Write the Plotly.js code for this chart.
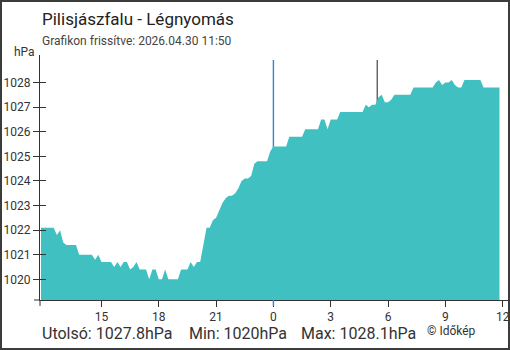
<!DOCTYPE html>
<html>
<head>
<meta charset="utf-8">
<script src="https://cdn.plot.ly/plotly-3.0.1.min.js"></script>
<style>
  html, body { margin: 0; padding: 0; background: #fff; }
  #wrap { position: relative; width: 510px; height: 350px; }
  #chart { width: 510px; height: 350px; }
  #frame { position: absolute; left: 0; top: 0; width: 510px; height: 350px; box-sizing: border-box; border: 2px solid #3c3c3c; pointer-events: none; }
</style>
</head>
<body>
<div id="wrap"><div id="chart"></div><div id="frame"></div></div>
<script>
// ---- data ----
const startTime = '2026-04-29T11:50:00';
const stepMinutes = 10;
const pressure = [
  1022.1, 1022.1, 1022.1, 1022.1, 1022.1, 1021.8, 1022.0, 1021.5, 1021.4, 1021.4,
  1021.4, 1021.4, 1021.0, 1021.0, 1021.0, 1021.0, 1021.0, 1020.8, 1021.0, 1020.7,
  1020.7, 1020.7, 1020.7, 1020.5, 1020.7, 1020.5, 1020.7, 1020.7, 1020.4, 1020.5,
  1020.7, 1020.4, 1020.4, 1020.4, 1020.0, 1020.4, 1020.4, 1020.0, 1020.0, 1020.4,
  1020.0, 1020.0, 1020.0, 1020.0, 1020.4, 1020.4, 1020.4, 1020.7, 1020.5, 1020.7,
  1020.7, 1021.4, 1022.1, 1022.1, 1022.4, 1022.5, 1022.8, 1023.1, 1023.3, 1023.4,
  1023.4, 1023.5, 1023.7, 1024.0, 1024.1, 1024.1, 1024.2, 1024.7, 1024.8, 1024.8,
  1024.8, 1024.8, 1025.2, 1025.4, 1025.4, 1025.4, 1025.4, 1025.4, 1025.8, 1025.8,
  1025.8, 1025.8, 1025.8, 1026.1, 1026.1, 1026.1, 1026.1, 1026.1, 1026.5, 1026.5,
  1026.1, 1026.5, 1026.5, 1026.5, 1026.8, 1026.8, 1026.8, 1026.8, 1026.8, 1026.8,
  1026.8, 1026.8, 1027.1, 1027.0, 1027.1, 1027.1, 1027.4, 1027.5, 1027.2, 1027.2,
  1027.3, 1027.5, 1027.5, 1027.5, 1027.5, 1027.5, 1027.5, 1027.8, 1027.8, 1027.8,
  1027.8, 1027.8, 1027.8, 1027.8, 1028.0, 1028.1, 1027.9, 1028.0, 1028.0, 1028.1,
  1027.9, 1027.8, 1027.8, 1028.1, 1028.1, 1028.1, 1028.1, 1028.1, 1028.1, 1027.8,
  1027.8, 1027.8, 1027.8, 1027.8, 1027.8
];
const xTickVals = ['2026-04-29 15:00', '2026-04-29 18:00', '2026-04-29 21:00', '2026-04-30 00:00',
                   '2026-04-30 03:00', '2026-04-30 06:00', '2026-04-30 09:00', '2026-04-30 12:00'];
const xTickText = ['15', '18', '21', '0', '3', '6', '9', '12'];
const yTickVals = [1020, 1021, 1022, 1023, 1024, 1025, 1026, 1027, 1028];
const midnight = '2026-04-30 00:00';
const sunrise = '2026-04-30 05:26';
const titleText = 'Pilisjászfalu - Légnyomás';
const subtitleText = 'Grafikon frissítve: 2026.04.30 11:50';
const unitText = 'hPa';
const lastText = 'Utolsó: 1027.8hPa';
const minText = 'Min: 1020hPa';
const maxText = 'Max: 1028.1hPa';
const creditText = '© Időkép';

// ---- build ----
function pad(n) { return (n < 10 ? '0' : '') + n; }
const t0 = new Date(startTime + 'Z').getTime();
const times = pressure.map((_, i) => {
  const d = new Date(t0 + i * stepMinutes * 60000);
  return d.getUTCFullYear() + '-' + pad(d.getUTCMonth() + 1) + '-' + pad(d.getUTCDate()) + ' ' +
         pad(d.getUTCHours()) + ':' + pad(d.getUTCMinutes());
});

const FONT = 'Roboto, "Noto Sans", sans-serif';
const TXT = '#333333';
const L = 40, T = 55, W = 470, H = 245;
function px(x) { return (x - L) / W; }
function py(y) { return (T + H - y) / H; }

const traces = [
  { x: times, y: pressure, type: 'scatter', mode: 'lines', fill: 'tozeroy',
    fillcolor: '#41c0c2', line: { width: 0, color: '#41c0c2' }, hoverinfo: 'skip' },
  { x: times, y: pressure, type: 'scatter', mode: 'lines', yaxis: 'y2',
    line: { width: 0 }, opacity: 0, hoverinfo: 'skip', showlegend: false }
];

const yRange = [1019.16, 1029.12];
const layout = {
  width: 510, height: 350,
  margin: { l: L, r: 510 - L - W, t: T, b: 350 - T - H, pad: 0 },
  paper_bgcolor: '#ffffff', plot_bgcolor: '#ffffff',
  showlegend: false,
  font: { family: FONT, color: TXT, size: 12 },
  xaxis: {
    type: 'date', range: ['2026-04-29 11:47', '2026-04-30 12:23'],
    tickvals: xTickVals, ticktext: xTickText,
    ticks: 'outside', ticklen: 6, tickwidth: 1, tickcolor: '#333',
    showline: true, linecolor: '#333', linewidth: 1,
    showgrid: false, zeroline: false,
    tickfont: { family: FONT, size: 12, color: TXT }
  },
  yaxis: {
    range: yRange, tickvals: yTickVals,
    ticks: 'outside', ticklen: 6, tickwidth: 1, tickcolor: '#333',
    showline: true, linecolor: '#333', linewidth: 1,
    showgrid: false, zeroline: false,
    tickfont: { family: FONT, size: 12, color: TXT }
  },
  yaxis2: {
    range: yRange, tickvals: yTickVals, overlaying: 'y', side: 'left',
    ticks: 'inside', ticklen: 6, tickwidth: 1, tickcolor: '#333',
    showticklabels: false, showline: false, showgrid: false, zeroline: false
  },
  shapes: [
    { type: 'line', xref: 'x', yref: 'paper', x0: midnight, x1: midnight, y0: 0, y1: py(60),
      line: { color: '#2f86d0', width: 1.4 }, layer: 'below' },
    { type: 'line', xref: 'x', yref: 'paper', x0: midnight, x1: midnight, y0: py(306), y1: py(300),
      line: { color: '#2f86d0', width: 1.4 }, layer: 'above' },
    { type: 'line', xref: 'x', yref: 'paper', x0: sunrise, x1: sunrise, y0: 0, y1: py(60),
      line: { color: '#444444', width: 1.2 }, layer: 'below' },
    { type: 'line', xref: 'paper', yref: 'paper', x0: 0, x1: 0, y0: py(306), y1: 0,
      line: { color: '#333', width: 1 }, layer: 'above' },
    { type: 'line', xref: 'paper', yref: 'paper', x0: px(34), x1: 0, y0: 0, y1: 0,
      line: { color: '#333', width: 1 }, layer: 'above' }
  ],
  annotations: [
    { text: titleText, xref: 'paper', yref: 'paper', x: px(40), y: py(19), xanchor: 'left', yanchor: 'middle',
      showarrow: false, font: { family: FONT, size: 17, color: '#222' } },
    { text: subtitleText, xref: 'paper', yref: 'paper', x: px(40), y: py(41), xanchor: 'left', yanchor: 'middle',
      showarrow: false, font: { family: FONT, size: 12, color: '#444' } },
    { text: unitText, xref: 'paper', yref: 'paper', x: px(24), y: py(52), xanchor: 'center', yanchor: 'middle',
      showarrow: false, font: { family: FONT, size: 12, color: TXT } },
    { text: lastText, xref: 'paper', yref: 'paper', x: px(40), y: py(333), xanchor: 'left', yanchor: 'middle',
      showarrow: false, font: { family: FONT, size: 16, color: TXT } },
    { text: minText, xref: 'paper', yref: 'paper', x: px(187), y: py(333), xanchor: 'left', yanchor: 'middle',
      showarrow: false, font: { family: FONT, size: 16, color: TXT } },
    { text: maxText, xref: 'paper', yref: 'paper', x: px(299), y: py(333), xanchor: 'left', yanchor: 'middle',
      showarrow: false, font: { family: FONT, size: 16, color: TXT } },
    { text: creditText, xref: 'paper', yref: 'paper', x: px(425), y: py(331), xanchor: 'left', yanchor: 'middle',
      showarrow: false, font: { family: FONT, size: 12, color: TXT } }
  ]
};

Plotly.newPlot('chart', traces, layout, { displayModeBar: false, staticPlot: true });
</script>
</body>
</html>
